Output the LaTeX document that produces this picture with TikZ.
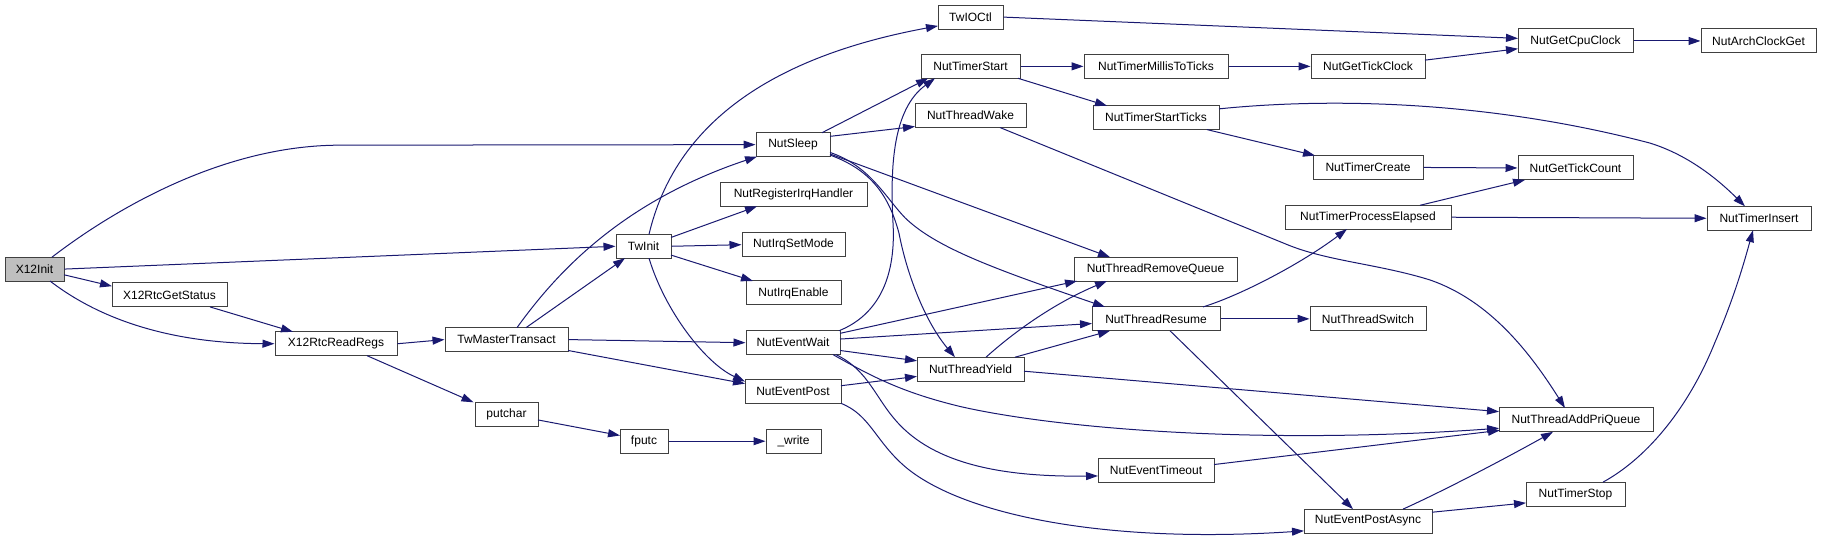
\documentclass[tikz,border=0pt]{standalone}
\usepackage{fontspec}
\setmainfont{Liberation Sans}
\usetikzlibrary{arrows.meta}
\definecolor{edgeblue}{RGB}{25,25,112}
\definecolor{nodeborder}{RGB}{64,64,64}
\definecolor{rootfill}{RGB}{191,191,191}
\tikzset{
  fn/.style={draw=nodeborder, fill=white, line width=1pt, inner sep=0pt, minimum height=24pt, font=\fontsize{12}{14}\selectfont},
  rootfn/.style={fn, fill=rootfill},
  callarrow/.style={draw=edgeblue, line width=1pt, -{Triangle[length=12pt,width=8pt]}}
}
\begin{document}
\begin{tikzpicture}[x=1pt, y=-1.0369pt]
\useasboundingbox (0,0) rectangle (1821,522.7);
% nodes
\node[rootfn, minimum width=59pt] (x12init) at (34.5,259.5) {X12Init};
\node[fn, minimum width=115pt] (getstatus) at (169.5,284.5) {X12RtcGetStatus};
\node[fn, minimum width=122pt] (readregs) at (336,331.5) {X12RtcReadRegs};
\node[fn, minimum width=123pt] (twmaster) at (506.5,327.5) {TwMasterTransact};
\node[fn, minimum width=63pt] (putchar) at (506.5,399.5) {putchar};
\node[fn, minimum width=55pt] (twinit) at (643.5,237.5) {TwInit};
\node[fn, minimum width=74pt] (nutsleep) at (793,139.5) {NutSleep};
\node[fn, minimum width=147pt] (reghandler) at (793.5,187.5) {NutRegisterIrqHandler};
\node[fn, minimum width=103pt] (irqsetmode) at (793.5,236) {NutIrqSetMode};
\node[fn, minimum width=95pt] (irqenable) at (793.5,282.5) {NutIrqEnable};
\node[fn, minimum width=94pt] (eventwait) at (793,330.5) {NutEventWait};
\node[fn, minimum width=96pt] (eventpost) at (793,377.5) {NutEventPost};
\node[fn, minimum width=48pt] (fputc) at (644,425.5) {fputc};
\node[fn, minimum width=55pt] (write) at (793.5,425.5) {\_write};
\node[fn, minimum width=65pt] (twioctl) at (970.5,16.5) {TwIOCtl};
\node[fn, minimum width=99pt] (timerstart) at (970.5,64) {NutTimerStart};
\node[fn, minimum width=111pt] (threadwake) at (970.5,111.5) {NutThreadWake};
\node[fn, minimum width=107pt] (threadyield) at (970.5,356) {NutThreadYield};
\node[fn, minimum width=144pt] (millis) at (1156,64) {NutTimerMillisToTicks};
\node[fn, minimum width=126pt] (startticks) at (1156,113.5) {NutTimerStartTicks};
\node[fn, minimum width=163pt] (removequeue) at (1155.5,259.5) {NutThreadRemoveQueue};
\node[fn, minimum width=128pt] (resume) at (1156,307.5) {NutThreadResume};
\node[fn, minimum width=116pt] (eventtimeout) at (1156,453.5) {NutEventTimeout};
\node[fn, minimum width=114pt] (gettickclock) at (1368,64) {NutGetTickClock};
\node[fn, minimum width=110pt] (timercreate) at (1368,161.5) {NutTimerCreate};
\node[fn, minimum width=166pt] (procelapsed) at (1368,209.5) {NutTimerProcessElapsed};
\node[fn, minimum width=116pt] (threadswitch) at (1368,307.5) {NutThreadSwitch};
\node[fn, minimum width=128pt] (postasync) at (1368,502.5) {NutEventPostAsync};
\node[fn, minimum width=115pt] (getcpuclock) at (1575.5,39.5) {NutGetCpuClock};
\node[fn, minimum width=115pt] (gettickcount) at (1575.5,162) {NutGetTickCount};
\node[fn, minimum width=154pt] (addpriqueue) at (1576,405) {NutThreadAddPriQueue};
\node[fn, minimum width=99pt] (timerstop) at (1575.5,476.5) {NutTimerStop};
\node[fn, minimum width=115pt] (archclock) at (1758.5,39.5) {NutArchClockGet};
\node[fn, minimum width=104pt] (timerinsert) at (1759,210.5) {NutTimerInsert};
% edges from X12Init
\draw[callarrow] (x12init.east) -- (twinit.west);
\draw[callarrow] ([shift={(17.5,-11.5)}]x12init.center) .. controls (110,205) and (220,140) .. (340,140) -- (nutsleep.west);
\draw[callarrow] ([shift={(29.5,5.5)}]x12init.center) -- ([shift={(-57.5,-8.5)}]getstatus.center);
\draw[callarrow] ([shift={(15.5,11.5)}]x12init.center) .. controls (85,297) and (150,331) .. (readregs.west);
\draw[callarrow] ([shift={(40.5,11.5)}]getstatus.center) -- ([shift={(-43,-11.5)}]readregs.center);
\draw[callarrow] (readregs.east) -- (twmaster.west);
\draw[callarrow] ([shift={(31,11.5)}]readregs.center) -- ([shift={(-33,-11.5)}]putchar.center);
\draw[callarrow] ([shift={(31.5,5.5)}]putchar.center) -- ([shift={(-24,-5.5)}]fputc.center);
\draw[callarrow] (fputc.east) -- (write.west);
% TwMasterTransact
\draw[callarrow] ([shift={(19.5,-11.5)}]twmaster.center) -- ([shift={(-18.5,11.5)}]twinit.center);
\draw[callarrow] ([shift={(10.5,-11.5)}]twmaster.center) .. controls (555,265) and (620,195) .. ([shift={(-36,11.5)}]nutsleep.center);
\draw[callarrow] (twmaster.east) -- (eventwait.west);
\draw[callarrow] ([shift={(61.5,10.5)}]twmaster.center) -- ([shift={(-48,-7.5)}]eventpost.center);
% TwInit
\draw[callarrow] ([shift={(5.5,-11.5)}]twinit.center) .. controls (675,120) and (770,55) .. ([shift={(-32.5,8.5)}]twioctl.center);
\draw[callarrow] ([shift={(27.5,-8.5)}]twinit.center) -- ([shift={(-36.5,11.5)}]reghandler.center);
\draw[callarrow] (twinit.east) -- (irqsetmode.west);
\draw[callarrow] ([shift={(27.5,8.5)}]twinit.center) -- ([shift={(-40.5,-11.5)}]irqenable.center);
\draw[callarrow] ([shift={(5.5,11.5)}]twinit.center) .. controls (665,300) and (705,350) .. ([shift={(-48,-9.5)}]eventpost.center);
% NutSleep
\draw[callarrow] ([shift={(29,-11.5)}]nutsleep.center) -- ([shift={(-42.5,11.5)}]timerstart.center);
\draw[callarrow] ([shift={(37,-8)}]nutsleep.center) -- ([shift={(-55.5,10.5)}]threadwake.center);
\draw[callarrow] ([shift={(37,9)}]nutsleep.center) -- ([shift={(-45.5,-11.5)}]removequeue.center);
\draw[callarrow] ([shift={(37,7.5)}]nutsleep.center) .. controls (870,160) and (885,190) .. (905,210) .. controls (935,238) and (990,258) .. ([shift={(-51,-11.5)}]resume.center);
\draw[callarrow] ([shift={(37,10)}]nutsleep.center) .. controls (868,163) and (888,185) .. (899,225) .. controls (907,265) and (925,310) .. ([shift={(-15.5,-11.5)}]threadyield.center);
% NutEventWait
\draw[callarrow] ([shift={(46,-11.5)}]eventwait.center) .. controls (880,303) and (896,265) .. (893,215) .. controls (890,160) and (893,105) .. ([shift={(-35.5,11.5)}]timerstart.center);
\draw[callarrow] ([shift={(47,-9)}]eventwait.center) -- ([shift={(-78.5,11.5)}]removequeue.center);
\draw[callarrow] ([shift={(47,-3.5)}]eventwait.center) -- ([shift={(-64,4.5)}]resume.center);
\draw[callarrow] ([shift={(47,7.5)}]eventwait.center) -- ([shift={(-53.5,-8)}]threadyield.center);
\draw[callarrow] ([shift={(40,11.5)}]eventwait.center) .. controls (870,362) and (900,378) .. (960,392) .. controls (1050,412) and (1250,430) .. ([shift={(-77,8)}]addpriqueue.center);
\draw[callarrow] ([shift={(43,11.5)}]eventwait.center) .. controls (870,358) and (875,385) .. (900,410) .. controls (940,450) and (1010,460) .. ([shift={(-58,5.5)}]eventtimeout.center);
% NutEventPost
\draw[callarrow] ([shift={(48,-5.5)}]eventpost.center) -- ([shift={(-53.5,7)}]threadyield.center);
\draw[callarrow] ([shift={(48,11.5)}]eventpost.center) .. controls (870,400) and (875,425) .. (905,450) .. controls (960,495) and (1100,525) .. ([shift={(-64,9.5)}]postasync.center);
% NutTimerStart, NutThreadWake
\draw[callarrow] (timerstart.east) -- (millis.west);
\draw[callarrow] ([shift={(47.5,11.5)}]timerstart.center) -- ([shift={(-49,-11.5)}]startticks.center);
\draw[callarrow] ([shift={(29.5,11.5)}]threadwake.center) -- (1290,237) .. controls (1330,252) and (1380,255) .. (1430,270) .. controls (1490,290) and (1530,340) .. ([shift={(-11,-11.5)}]addpriqueue.center);
% clocks
\draw[callarrow] (millis.east) -- (gettickclock.west);
\draw[callarrow] ([shift={(57,-6)}]gettickclock.center) -- ([shift={(-57.5,7.5)}]getcpuclock.center);
\draw[callarrow] (twioctl.east) -- ([shift={(-57.5,-2.5)}]getcpuclock.center);
\draw[callarrow] (getcpuclock.east) -- (archclock.west);
% timers
\draw[callarrow] ([shift={(51,11.5)}]startticks.center) -- ([shift={(-53,-11.5)}]timercreate.center);
\draw[callarrow] ([shift={(63,-8.5)}]startticks.center) .. controls (1320,95) and (1480,95) .. (1650,138) .. controls (1690,150) and (1720,175) .. ([shift={(-14,-11.5)}]timerinsert.center);
\draw[callarrow] (timercreate.east) -- (gettickcount.west);
\draw[callarrow] ([shift={(52,-11.5)}]procelapsed.center) -- ([shift={(-50.5,11.5)}]gettickcount.center);
\draw[callarrow] (procelapsed.east) -- (timerinsert.west);
% NutThreadResume
\draw[callarrow] ([shift={(47,-11.5)}]resume.center) .. controls (1240,285) and (1300,255) .. ([shift={(-21,11.5)}]procelapsed.center);
\draw[callarrow] (resume.east) -- (threadswitch.west);
\draw[callarrow] ([shift={(14,11.5)}]resume.center) -- ([shift={(-15,-11.5)}]postasync.center);
% NutThreadYield
\draw[callarrow] ([shift={(15.5,-11.5)}]threadyield.center) .. controls (1020,315) and (1060,290) .. ([shift={(-48.5,11.5)}]removequeue.center);
\draw[callarrow] ([shift={(44.5,-11.5)}]threadyield.center) -- ([shift={(-46,11.5)}]resume.center);
\draw[callarrow] ([shift={(53.5,2)}]threadyield.center) -- ([shift={(-77,-8)}]addpriqueue.center);
% others
\draw[callarrow] ([shift={(58,-5.5)}]eventtimeout.center) -- ([shift={(-76,10)}]addpriqueue.center);
\draw[callarrow] ([shift={(35,-11.5)}]postasync.center) .. controls (1440,475) and (1500,445) .. ([shift={(-23,11.5)}]addpriqueue.center);
\draw[callarrow] ([shift={(64,-8.5)}]postasync.center) -- ([shift={(-49.5,8.5)}]timerstop.center);
\draw[callarrow] ([shift={(27.5,-11.5)}]timerstop.center) .. controls (1650,440) and (1690,390) .. (1715,330) .. controls (1735,285) and (1745,250) .. ([shift={(-6,11.5)}]timerinsert.center);
\end{tikzpicture}
\end{document}
